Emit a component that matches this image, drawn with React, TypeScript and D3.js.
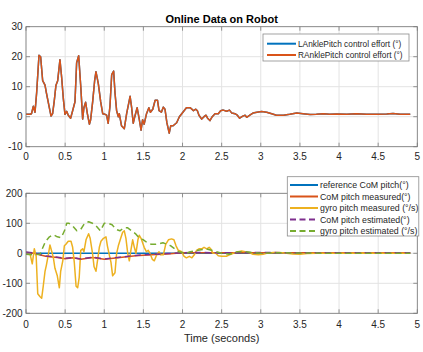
import React from "react";
import * as d3 from "d3";

// ---------- data ----------
const ankleT = [0, 0.05, 0.07, 0.094, 0.115, 0.136, 0.166, 0.187, 0.213, 0.243, 0.26, 0.298, 0.32, 0.34, 0.36, 0.383, 0.405, 0.434, 0.456, 0.477, 0.498, 0.52, 0.54, 0.57, 0.596, 0.626, 0.647, 0.673, 0.7, 0.724, 0.74, 0.762, 0.784, 0.81, 0.826, 0.852, 0.877, 0.894, 0.924, 0.954, 0.98, 1.01, 1.03, 1.05, 1.073, 1.095, 1.12, 1.137, 1.158, 1.18, 1.192, 1.22, 1.256, 1.286, 1.33, 1.35, 1.37, 1.39, 1.42, 1.448, 1.47, 1.49, 1.51, 1.54, 1.57, 1.59, 1.62, 1.65, 1.68, 1.7, 1.73, 1.755, 1.776, 1.8, 1.83, 1.85, 1.88, 1.925, 1.96, 1.99, 2.02, 2.05, 2.095, 2.12, 2.14, 2.17, 2.19, 2.21, 2.245, 2.275, 2.3, 2.32, 2.35, 2.38, 2.415, 2.457, 2.487, 2.52, 2.564, 2.6, 2.63, 2.67, 2.7, 2.73, 2.77, 2.8, 2.82, 2.86, 2.9, 2.95, 3.01, 3.075, 3.14, 3.2, 3.29, 3.37, 3.46, 3.54, 3.63, 3.71, 3.8, 3.88, 3.97, 4.1, 4.22, 4.35, 4.48, 4.61, 4.69, 4.78, 4.91];
const ankleEffort = [0.8, 0.8, 1, 3.5, 1.5, 8, 20.5, 20, 12, 10.5, 8, 3, 0.2, 1, 5, 10.5, 12, 19, 13, 6, 0.8, 1.8, 0.5, -0.5, 2, 5, 18, 20.3, 10, -0.8, 3, 4.8, 1, -2.5, -1, 5, 12, 15, 11, 5, 1, 0.8, 0.5, -2.2, 3.5, 14, 15.2, 8, 2, 0, 1, -3, -4, 1, 6.8, 3, -2.2, 0, 3, -1, -4.5, -1, -2.5, 1, 3, 1.5, 2.5, 5.5, 5.5, 2, 1.5, 3.2, 2.5, -2, -5.5, -3, -3, -2, 0, 1, 2, 3, 3, 2.5, 2, 2.5, 2, 0.5, -0.8, 0, 0.5, -0.5, -1.3, 0, 1, 1, 2, 2.2, 1.8, 2.2, 1.2, 1, 0.5, -0.5, 0.2, 0.5, -0.2, 0.5, 1.2, 1.5, 1.7, 1.5, 1, 0.5, 0.5, 0.8, 1.2, 1, 0.7, 0.8, 1.0, 0.8, 0.9, 0.8, 1.0, 0.8, 0.8, 0.9, 1.1, 0.8, 0.8];

const refT = [0, 4.91];
const refCoM = [0, 0];

const comT = [0, 0.1, 0.25, 0.4, 0.5, 0.6, 0.7, 0.85, 1.0, 1.2, 1.4, 1.6, 1.8, 2.0, 2.2, 2.5, 3.0, 3.5, 4.0, 4.5, 4.91];
const comMeasured = [3, 0, -10, -14, -18, -15, -20, -14, -20, -14, -8, -5, -2, 2, 2, 1.5, 2, 1.5, 2, 1.5, 1.5];
const comEstimated = [4, 1, -9, -13, -17, -14, -19, -13, -19, -13, -7, -4, -1, 2, 2.5, 2, 2.5, 2, 2, 2, 2];

const gyroT = [0, 0.05, 0.08, 0.106, 0.13, 0.15, 0.18, 0.2, 0.22, 0.243, 0.26, 0.285, 0.306, 0.33, 0.35, 0.37, 0.4, 0.426, 0.443, 0.47, 0.49, 0.51, 0.54, 0.575, 0.596, 0.617, 0.64, 0.66, 0.68, 0.7, 0.724, 0.74, 0.767, 0.8, 0.82, 0.85, 0.87, 0.894, 0.916, 0.937, 0.958, 0.99, 1.022, 1.04, 1.06, 1.086, 1.107, 1.137, 1.158, 1.18, 1.21, 1.235, 1.256, 1.277, 1.3, 1.32, 1.34, 1.363, 1.384, 1.405, 1.43, 1.448, 1.47, 1.49, 1.51, 1.54, 1.562, 1.584, 1.614, 1.64, 1.67, 1.7, 1.72, 1.755, 1.785, 1.82, 1.86, 1.89, 1.917, 1.946, 1.99, 2.02, 2.05, 2.087, 2.12, 2.15, 2.18, 2.21, 2.245, 2.275, 2.31, 2.34, 2.36, 2.39, 2.425, 2.457, 2.5, 2.56, 2.6, 2.65, 2.71, 2.755, 2.8, 2.86, 2.9, 2.97, 3.03, 3.075, 3.16, 3.24, 3.33, 3.41, 3.5, 3.59, 3.71, 4.0, 4.3, 4.6, 4.91];
const gyroMeasured = [-3, 0, -35, 15, -10, -135, -145, -150, -110, -60, -40, -5, 28, 5, -15, -50, -75, -115, -60, -25, 25, 30, 40, 40, 20, -30, -110, -115, -80, 10, 15, 5, 45, 65, 50, 0, -45, -60, -20, 20, 40, 50, 55, 25, 0, -30, -75, -65, 0, 25, 50, 70, 75, 50, 0, -25, 10, 45, 20, 0, 45, 60, 50, 35, 20, 5, 10, 0, -20, -25, -5, 5, -5, -5, 30, 45, 48, 45, 25, 10, 5, -10, -15, -10, -15, -5, 10, 15, 15, 20, 15, 20, 15, 0, 0, -8, -10, -10, -5, 0, 5, 8, 5, 2, -3, -5, -3, 0, 3, 3, 0, -2, -3, -1, 0, 0, 1, 0, 0];

const gyroEstT = [0, 0.1, 0.18, 0.2, 0.25, 0.3, 0.35, 0.4, 0.45, 0.5, 0.52, 0.55, 0.6, 0.65, 0.7, 0.75, 0.8, 0.85, 0.9, 0.95, 1.0, 1.05, 1.1, 1.15, 1.2, 1.25, 1.3, 1.35, 1.4, 1.45, 1.5, 1.55, 1.6, 1.65, 1.7, 1.75, 1.8, 1.85, 1.9, 1.95, 2.0, 2.05, 2.1, 2.2, 2.3, 2.4, 2.5, 2.6, 2.7, 2.8, 3.0, 3.2, 3.5, 4.0, 4.5, 4.91];
const gyroEstimated = [-3, -5, -3, 10, 40, 55, 62, 55, 52, 80, 100, 100, 90, 75, 80, 100, 105, 100, 90, 75, 100, 100, 95, 80, 75, 85, 85, 75, 65, 50, 45, 35, 30, 30, 32, 35, 30, 25, 15, 5, 3, 0, 5, 10, 15, 8, 0, -3, 5, 5, 0, 2, 1, 0, 0, 0];

const xTicks = [0, 0.5, 1, 1.5, 2, 2.5, 3, 3.5, 4, 4.5, 5];
const topYTicks = [-10, 0, 10, 20, 30];
const botYTicks = [-200, -100, 0, 100, 200];

const topLegend = ["LAnklePitch control effort (°)", "RAnklePitch control effort (°)"];
const botLegend = ["reference CoM pitch(°)", "CoM pitch measured(°)", "gyro pitch measured (°/s)", "CoM pitch estimated(°)", "gyro pitch estimated (°/s)"];

// ---------- layout ----------
const W = 423, H = 352;
const X0 = 26, X1 = 417.3;
const top = { y0: 26.7, y1: 146.7 };
const bot = { y0: 193.3, y1: 313.3 };
const colors = ["#0072BD", "#D95319", "#EDB120", "#7E2F8E", "#77AC30"];
const font = "Arial, 'Liberation Sans', Helvetica, sans-serif";
const textCol = "#262626";

const x = d3.scaleLinear().domain([0, 5]).range([X0, X1]);
const yTop = d3.scaleLinear().domain([-10, 30]).range([top.y1, top.y0]);
const yBot = d3.scaleLinear().domain([-200, 200]).range([bot.y1, bot.y0]);

function mkLine(ts: number[], vs: number[], y: d3.ScaleLinear<number, number>) {
  return d3.line<number>().x((_, i) => x(ts[i])).y((v) => y(v))(vs) || "";
}

function Grid({ y, yTicks, y0, y1 }: { y: d3.ScaleLinear<number, number>; yTicks: number[]; y0: number; y1: number }) {
  return (
    <g>
      {xTicks.map((t) => (
        <line key={"gx" + t} x1={x(t)} x2={x(t)} y1={y0} y2={y1} stroke="#e3e3e3" strokeWidth={1} />
      ))}
      {yTicks.map((t) => (
        <line key={"gy" + t} x1={X0} x2={X1} y1={y(t)} y2={y(t)} stroke="#e3e3e3" strokeWidth={1} />
      ))}
    </g>
  );
}

function Frame({ y, yTicks, y0, y1, xLabelY }: { y: d3.ScaleLinear<number, number>; yTicks: number[]; y0: number; y1: number; xLabelY: number }) {
  return (
    <g>
      <rect x={X0} y={y0} width={X1 - X0} height={y1 - y0} fill="none" stroke="#7a7a7a" strokeWidth={0.8} />
      {xTicks.map((t) => (
        <g key={"tx" + t}>
          <line x1={x(t)} x2={x(t)} y1={y1} y2={y1 - 4} stroke="#7a7a7a" strokeWidth={0.8} />
          <line x1={x(t)} x2={x(t)} y1={y0} y2={y0 + 4} stroke="#7a7a7a" strokeWidth={0.8} />
          <text x={x(t)} y={xLabelY} textAnchor="middle" fontSize={10} fill={textCol} fontFamily={font}>{String(t)}</text>
        </g>
      ))}
      {yTicks.map((t) => (
        <g key={"ty" + t}>
          <line x1={X0} x2={X0 + 4} y1={y(t)} y2={y(t)} stroke="#7a7a7a" strokeWidth={0.8} />
          <line x1={X1} x2={X1 - 4} y1={y(t)} y2={y(t)} stroke="#7a7a7a" strokeWidth={0.8} />
          <text x={22.5} y={y(t) + 3.5} textAnchor="end" fontSize={10} fill={textCol} fontFamily={font}>{String(t)}</text>
        </g>
      ))}
    </g>
  );
}

export default function App() {
  const clipTop = "clipTop", clipBot = "clipBot";
  return (
    <div style={{ position: "absolute", left: 0, top: 0 }}>
      <svg width={W} height={H} style={{ display: "block", background: "#fff" }}>
        <defs>
          <clipPath id={clipTop}><rect x={X0} y={top.y0} width={X1 - X0} height={top.y1 - top.y0} /></clipPath>
          <clipPath id={clipBot}><rect x={X0} y={bot.y0} width={X1 - X0} height={bot.y1 - bot.y0} /></clipPath>
        </defs>
        <rect x={0} y={0} width={W} height={H} fill="#fff" />
        <text x={(X0 + X1) / 2} y={23} textAnchor="middle" fontSize={11} fontWeight="bold" fill="#000" fontFamily={font}>Online Data on Robot</text>

        {/* top axes */}
        <Grid y={yTop} yTicks={topYTicks} y0={top.y0} y1={top.y1} />
        <g clipPath={`url(#${clipTop})`} fill="none" strokeLinejoin="round">
          <path d={mkLine(ankleT, ankleEffort, yTop)} stroke={colors[0]} strokeWidth={1.5} />
          <path d={mkLine(ankleT, ankleEffort, yTop)} stroke={colors[1]} strokeWidth={1.5} />
        </g>
        <Frame y={yTop} yTicks={topYTicks} y0={top.y0} y1={top.y1} xLabelY={160} />
        <g>
          <rect x={263} y={34} width={146} height={27} fill="#fff" stroke="#8c8c8c" strokeWidth={0.8} />
          {topLegend.map((s, i) => (
            <g key={s}>
              <line x1={267} x2={296} y1={43.7 + i * 11.3} y2={43.7 + i * 11.3} stroke={colors[i]} strokeWidth={2} />
              <text x={298} y={43.7 + i * 11.3 + 3.1} fontSize={8.3} fill={textCol} fontFamily={font}>{s}</text>
            </g>
          ))}
        </g>

        {/* bottom axes */}
        <Grid y={yBot} yTicks={botYTicks} y0={bot.y0} y1={bot.y1} />
        <g clipPath={`url(#${clipBot})`} fill="none" strokeLinejoin="round">
          <path d={mkLine(refT, refCoM, yBot)} stroke={colors[0]} strokeWidth={1.5} />
          <path d={mkLine(comT, comMeasured, yBot)} stroke={colors[1]} strokeWidth={1.5} />
          <path d={mkLine(gyroT, gyroMeasured, yBot)} stroke={colors[2]} strokeWidth={1.5} />
          <path d={mkLine(comT, comEstimated, yBot)} stroke={colors[3]} strokeWidth={1.5} strokeDasharray="6,4" />
          <path d={mkLine(gyroEstT, gyroEstimated, yBot)} stroke={colors[4]} strokeWidth={1.5} strokeDasharray="6,4" />
        </g>
        <Frame y={yBot} yTicks={botYTicks} y0={bot.y0} y1={bot.y1} xLabelY={328} />
        <text x={(X0 + X1) / 2} y={342} textAnchor="middle" fontSize={11} fill={textCol} fontFamily={font}>Time (seconds)</text>
        <g>
          <rect x={287.3} y={176.7} width={131.5} height={59.3} fill="#fff" stroke="#8c8c8c" strokeWidth={0.8} />
          {botLegend.map((s, i) => (
            <g key={s}>
              <line x1={290} x2={318} y1={185 + i * 11.5} y2={185 + i * 11.5} stroke={colors[i]} strokeWidth={2} strokeDasharray={i >= 3 ? "6,3.5" : undefined} />
              <text x={320} y={185 + i * 11.5 + 3.1} fontSize={8.8} fill={textCol} fontFamily={font}>{s}</text>
            </g>
          ))}
        </g>
      </svg>
    </div>
  );
}
